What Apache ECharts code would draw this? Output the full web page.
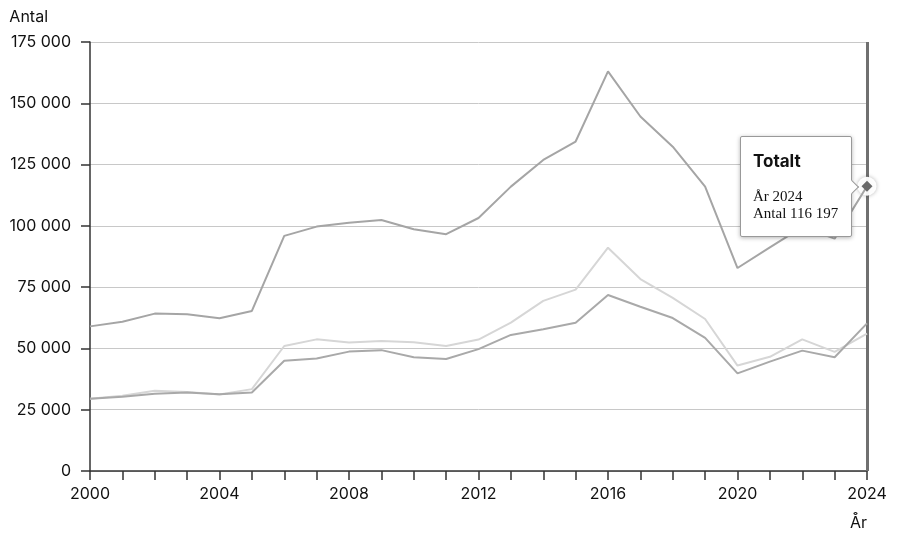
<!DOCTYPE html>
<html>
<head>
<meta charset="utf-8">
<script src="https://cdn.jsdelivr.net/npm/echarts@6/dist/echarts.min.js"></script>
<style>
html,body{margin:0;padding:0;background:#fff;}
#chart{width:900px;height:547px;}
</style>
</head>
<body>
<div id="chart"></div>
<script>
const years = ['2000','2001','2002','2003','2004','2005','2006','2007','2008','2009','2010','2011','2012','2013','2014','2015','2016','2017','2018','2019','2020','2021','2022','2023','2024'];
const totalt = [59000,60900,64200,63900,62300,65300,95900,99700,101300,102400,98600,96600,103200,116000,126900,134400,163000,144600,132300,116000,82800,91200,99500,94800,116197];
const serieLjus = [29500,30700,32700,32200,31200,33400,51000,53700,52400,53000,52500,51000,53600,60500,69400,74000,91100,78300,70600,62000,43000,46600,53700,48600,56000];
const serieMellan = [29500,30300,31500,32000,31300,32000,45000,45900,48700,49300,46400,45700,49700,55500,57800,60500,71800,67000,62400,54300,39800,44600,49100,46400,60200];
const yTicks = {min:0, max:175000, interval:25000};

function fmt(v){ return String(v).replace(/\B(?=(\d{3})+(?!\d))/g, ' '); }

const chart = echarts.init(document.getElementById('chart'), null, {renderer:'canvas'});
const lastIdx = years.length - 1;
const totalData = totalt.map((v,i)=> i===lastIdx ? {value:v, symbol:'diamond', symbolSize:11,
  itemStyle:{color:'#6a6a6a', borderColor:'#6a6a6a', borderWidth:0}} : v);

chart.setOption({
  animation:false,
  textStyle:{fontFamily:'Inter, "Noto Sans", sans-serif'},
  grid:{left:90, right:33, top:42, bottom:76},
  tooltip:{
    trigger:'item',
    position:function(point, params, dom, rect, size){
      return [point[0] - size.contentSize[0] - 15, point[1] - size.contentSize[1]/2];
    },
    backgroundColor:'#fff',
    borderColor:'#999',
    borderWidth:1,
    padding:0,
    extraCssText:'box-shadow:0 1px 4px rgba(0,0,0,0.3);border-radius:2px;overflow:visible;',
    formatter:function(p){
      return '<div style="position:relative;padding:12px 13px 14px 12px;">'
        + '<div style="font-family:Inter,sans-serif;font-weight:bold;font-size:17px;line-height:24px;color:#111;">'+p.seriesName+'</div>'
        + '<div style="margin-top:15px;font-family:\'Liberation Serif\',serif;font-size:15px;line-height:17px;color:#111;">År '+p.name+'</div>'
        + '<div style="font-family:\'Liberation Serif\',serif;font-size:15px;line-height:17px;color:#111;">Antal '+fmt(p.value)+'</div>'
        + '<div style="position:absolute;right:-6px;top:50%;margin-top:-5px;width:9px;height:9px;background:#fff;border-top:1px solid #999;border-right:1px solid #999;transform:rotate(45deg);"></div>'
        + '</div>';
    }
  },
  xAxis:{
    type:'category',
    data:years,
    boundaryGap:false,
    name:'År',
    nameLocation:'end',
    nameGap:0,
    nameTextStyle:{align:'right', verticalAlign:'top', padding:[44,0,0,0], fontSize:16, color:'#111', fontFamily:'Inter'},
    axisLine:{lineStyle:{color:'#333', width:1.5}},
    axisTick:{show:true, length:9, interval:0, lineStyle:{color:'#333', width:1.5}},
    axisLabel:{interval:3, margin:15, fontSize:16, color:'#111', fontFamily:'Inter'},
    splitLine:{show:false}
  },
  yAxis:{
    type:'value',
    min:yTicks.min, max:yTicks.max, interval:yTicks.interval,
    name:'Antal',
    nameLocation:'end',
    nameGap:17,
    nameTextStyle:{align:'right', padding:[0,42,0,0], fontSize:16, color:'#111', fontFamily:'Inter'},
    axisLine:{show:true, lineStyle:{color:'#333', width:1.5}},
    axisTick:{show:true, length:9, lineStyle:{color:'#333', width:1.5}},
    axisLabel:{margin:19, fontSize:16, color:'#111', fontFamily:'Inter', formatter:fmt},
    splitLine:{lineStyle:{color:'#c8c8c8', width:1}}
  },
  series:[
    {name:'Kvinnor', type:'line', data:serieLjus, symbol:'none', silent:true,
      lineStyle:{color:'#d6d6d6', width:2}, z:2},
    {name:'Män', type:'line', data:serieMellan, symbol:'none', silent:true,
      lineStyle:{color:'#a9a9a9', width:2}, z:3},
    {name:'Totalt', type:'line', data:totalData, symbol:'none', showSymbol:true,
      lineStyle:{color:'#a5a5a5', width:2}, z:5,
      emphasis:{disabled:true},
      markLine:{silent:true, symbol:'none', label:{show:false}, z:1,
        lineStyle:{color:'#707070', width:3, type:'solid'},
        data:[{xAxis:years[lastIdx]}]},
      markPoint:{silent:true, symbol:'circle', symbolSize:19, z:4, label:{show:false},
        itemStyle:{color:'rgba(255,255,255,0.95)', shadowBlur:4, shadowColor:'rgba(0,0,0,0.3)'},
        data:[{coord:[years[lastIdx], totalt[lastIdx]]}]}
    }
  ]
});
chart.dispatchAction({type:'showTip', seriesIndex:2, dataIndex:lastIdx});
</script>
</body>
</html>
